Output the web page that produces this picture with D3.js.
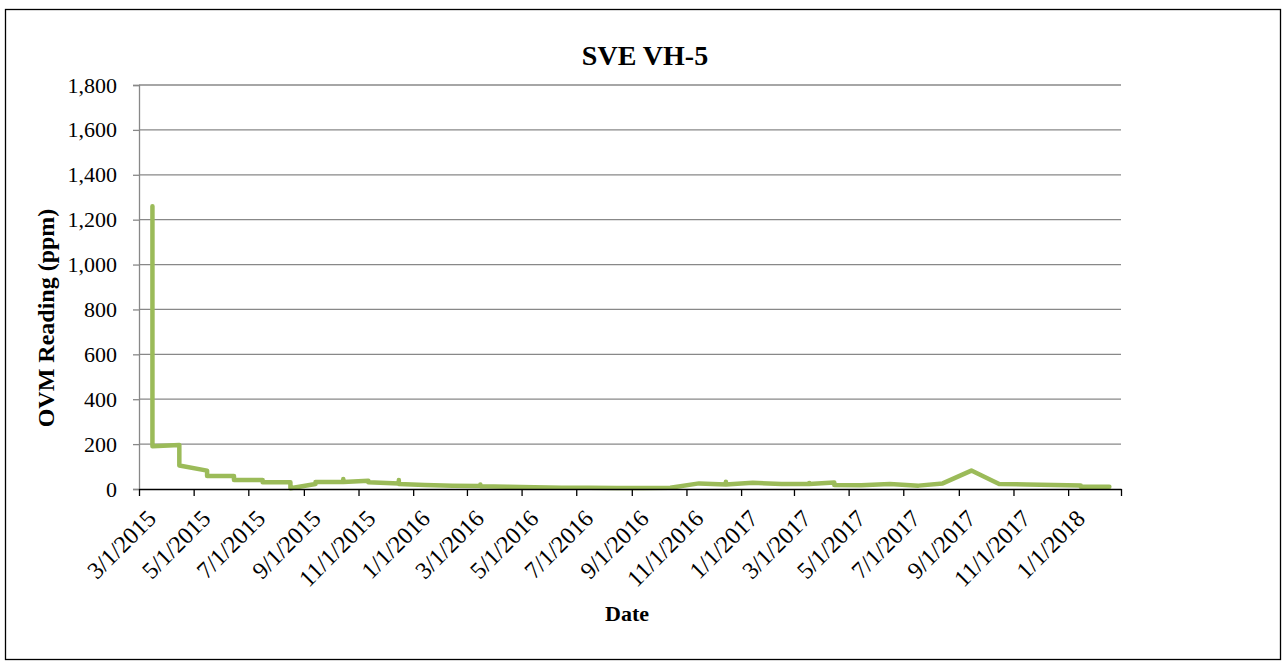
<!DOCTYPE html>
<html>
<head>
<meta charset="utf-8">
<script src="https://cdn.jsdelivr.net/npm/d3@7"></script>
<style>
  body { margin: 0; background: #fff; }
  svg { display: block; }
  text { font-family: "Liberation Serif", "Times New Roman", serif; fill: #000; }
</style>
</head>
<body>
<svg id="chart"></svg>
<script>
const W = 1287;
const H = 666;

// ── Data ──────────────────────────────────────────────────────────────────────

// repeated dates = several readings taken the same day
const DATES = [
  '2015-03-16', '2015-03-16', '2015-03-16',
  '2015-04-15', '2015-04-15',
  '2015-05-16', '2015-05-16',
  '2015-06-15', '2015-06-15',
  '2015-07-17', '2015-07-17',
  '2015-08-17', '2015-08-17',
  '2015-09-14', '2015-09-14',
  '2015-10-15', '2015-10-15', '2015-10-15',
  '2015-11-12', '2015-11-12',
  '2015-12-16', '2015-12-16', '2015-12-16',
  '2016-01-14', '2016-02-14',
  '2016-03-16', '2016-03-16', '2016-03-16',
  '2016-04-15', '2016-05-15', '2016-06-15', '2016-07-15',
  '2016-08-15', '2016-09-14', '2016-10-14', '2016-11-15',
  '2016-12-15', '2016-12-15', '2016-12-15',
  '2017-01-14', '2017-02-15',
  '2017-03-18', '2017-03-18', '2017-03-18',
  '2017-04-15', '2017-04-15',
  '2017-05-15', '2017-06-16', '2017-07-18', '2017-08-14',
  '2017-09-15', '2017-10-16', '2017-11-16', '2017-12-16',
  '2018-01-15', '2018-01-15',
  '2018-02-16',
];

const OVM_PPM = [
  350, 1260, 190,
  196, 105,
  82, 58,
  58, 40,
  40, 30,
  30, 3,
  22, 31,
  31, 45, 31,
  37, 30,
  25, 40, 22,
  18, 15,
  13, 20, 12,
  10, 8, 6, 6,
  5, 5, 6, 25,
  20, 32, 20,
  28, 22,
  22, 27, 22,
  29, 18,
  17, 22, 15, 25,
  82, 22, 20, 18,
  16, 10,
  10,
];

const Y_TICKS = [0, 200, 400, 600, 800, 1000, 1200, 1400, 1600, 1800];

const X_TICKS = [
  '2015-03-01', '2015-05-01', '2015-07-01', '2015-09-01', '2015-11-01',
  '2016-01-01', '2016-03-01', '2016-05-01', '2016-07-01', '2016-09-01', '2016-11-01',
  '2017-01-01', '2017-03-01', '2017-05-01', '2017-07-01', '2017-09-01', '2017-11-01',
  '2018-01-01', '2018-03-01',
];

const X_LABELS = [
  '3/1/2015', '5/1/2015', '7/1/2015', '9/1/2015', '11/1/2015',
  '1/1/2016', '3/1/2016', '5/1/2016', '7/1/2016', '9/1/2016', '11/1/2016',
  '1/1/2017', '3/1/2017', '5/1/2017', '7/1/2017', '9/1/2017', '11/1/2017',
  '1/1/2018', '',
];

// ── Scales ────────────────────────────────────────────────────────────────────

const parse = d3.utcParse('%Y-%m-%d');
const data = DATES.map((d, i) => ({ date: parse(d), value: OVM_PPM[i] }));
const xTicks = X_TICKS.map(parse);

const plot = { left: 139, right: 1121, top: 85, bottom: 489 };

const x = d3.scaleUtc()
  .domain([xTicks[0], xTicks[xTicks.length - 1]])
  .range([plot.left, plot.right]);

const y = d3.scaleLinear()
  .domain([0, 1800])
  .range([plot.bottom, plot.top]);

// ── SVG ───────────────────────────────────────────────────────────────────────

const svg = d3.select('#chart').attr('width', W).attr('height', H);

svg.append('rect')
  .attr('x', 5.5).attr('y', 9.5)
  .attr('width', 1275).attr('height', 650)
  .attr('fill', '#fff')
  .attr('stroke', '#000')
  .attr('stroke-width', 1.3);

svg.append('text')
  .attr('x', 645).attr('y', 65)
  .attr('text-anchor', 'middle')
  .attr('font-size', 28)
  .attr('font-weight', 'bold')
  .text('SVE VH-5');

// gridlines
svg.append('g')
  .selectAll('line')
  .data(Y_TICKS.filter(v => v > 0))
  .join('line')
  .attr('x1', plot.left).attr('x2', plot.right)
  .attr('y1', d => y(d)).attr('y2', d => y(d))
  .attr('stroke', '#888')
  .attr('stroke-width', 1.3);

// y axis
const yAxis = svg.append('g')
  .attr('transform', `translate(${plot.left},0)`)
  .call(d3.axisLeft(y).tickValues(Y_TICKS).tickSize(6).tickPadding(16).tickFormat(d3.format(',')));
yAxis.select('.domain').attr('stroke', '#888').attr('stroke-width', 1.3);
yAxis.selectAll('.tick line').attr('stroke', '#888').attr('stroke-width', 1.3);
yAxis.selectAll('.tick text')
  .attr('font-family', '"Liberation Serif", serif')
  .attr('font-size', 22)
  .attr('fill', '#000');

svg.append('text')
  .attr('transform', 'translate(54,318) rotate(-90)')
  .attr('text-anchor', 'middle')
  .attr('font-size', 24)
  .attr('font-weight', 'bold')
  .text('OVM Reading (ppm)');

// line
svg.append('path')
  .datum(data)
  .attr('fill', 'none')
  .attr('stroke', '#9bbb59')
  .attr('stroke-width', 4.5)
  .attr('stroke-linejoin', 'round')
  .attr('stroke-linecap', 'round')
  .attr('d', d3.line().x(d => x(d.date)).y(d => y(d.value)));

// x axis
const xAxis = svg.append('g')
  .attr('transform', `translate(0,${plot.bottom})`)
  .call(d3.axisBottom(x).tickValues(xTicks).tickSize(7).tickSizeOuter(0).tickFormat((d, i) => X_LABELS[i]));
xAxis.select('.domain').attr('stroke', '#000').attr('stroke-width', 1.3);
xAxis.selectAll('.tick line').attr('stroke', '#000').attr('stroke-width', 1.3);
xAxis.selectAll('.tick text')
  .attr('font-family', '"Liberation Serif", serif')
  .attr('font-size', 24)
  .attr('fill', '#000')
  .attr('text-anchor', 'end')
  .attr('transform', 'translate(12,25) rotate(-45)')
  .attr('y', 0).attr('x', 0)
  .attr('dy', '0.35em');

svg.append('text')
  .attr('x', 627).attr('y', 621)
  .attr('text-anchor', 'middle')
  .attr('font-size', 22)
  .attr('font-weight', 'bold')
  .text('Date');
</script>
</body>
</html>
